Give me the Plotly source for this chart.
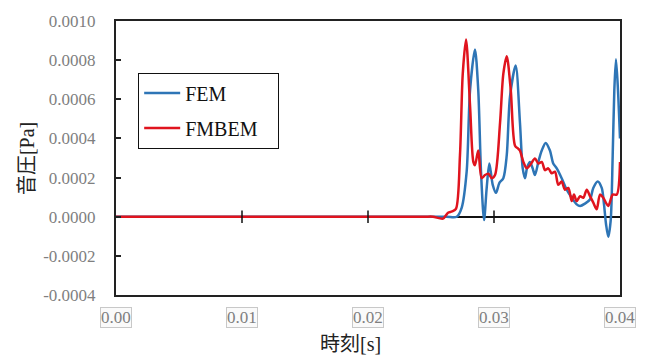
import plotly.graph_objects as go

# ---- data ----
fem_t = [0.0, 0.010, 0.020, 0.0262, 0.02704, 0.02744, 0.02783, 0.02810, 0.02849, 0.02875, 0.02897, 0.02921, 0.02942,
         0.02963, 0.02990, 0.03016, 0.03042, 0.03074, 0.03101, 0.03127, 0.03172, 0.03206, 0.03228,
         0.03246, 0.03264, 0.03286, 0.03307, 0.03325, 0.03352, 0.03379, 0.03410, 0.03444, 0.03470,
         0.03498, 0.03537, 0.03577, 0.03617, 0.03656, 0.03683, 0.03722, 0.03762, 0.03788, 0.03823,
         0.03855, 0.03873, 0.03889, 0.03907, 0.03926, 0.03942, 0.03955, 0.03968, 0.03984, 0.04000]
fem_p = [0.0, 0.0, 0.0, 0.0, 0.0, 0.000047, 0.00023, 0.000647, 0.000855, 0.000647, 0.00023, -0.000017, 0.000147,
         0.000272, 0.000163, 0.000122, 0.000172, 0.000197, 0.000313, 0.000613, 0.000772, 0.00048, 0.000247,
         0.000197, 0.000255, 0.00028, 0.000247, 0.000213, 0.00028, 0.000338, 0.000377, 0.000338, 0.000272,
         0.000247, 0.000197, 0.000138, 0.000097, 0.000063, 0.000055, 0.000067, 0.000088, 0.000147, 0.00018,
         0.000147, 0.000063, -0.000037, -0.000103, -0.00002, 0.000313, 0.000647, 0.000805, 0.000647, 0.0004]

fmbem_t = [0.0, 0.010, 0.020, 0.0245, 0.02516, 0.02595, 0.02635, 0.02667, 0.02698, 0.02730, 0.02752, 0.02778, 0.02810,
           0.02836, 0.02849, 0.02875, 0.02902, 0.02929, 0.02955, 0.02982, 0.03008, 0.03048, 0.03074,
           0.03101, 0.03133, 0.03167, 0.03193, 0.03206, 0.03233, 0.03260, 0.03286, 0.03325, 0.03352,
           0.03379, 0.03405, 0.03431, 0.03458, 0.03484, 0.03510, 0.03537, 0.03563, 0.03590, 0.03617,
           0.03635, 0.03656, 0.03683, 0.03709, 0.03736, 0.03762, 0.03788, 0.03815, 0.03841, 0.03867,
           0.03907, 0.03942, 0.03974, 0.04000]
fmbem_p = [0.0, 0.0, 0.0, 0.0, 0.0, -0.00001, 0.00002, 0.000027, 0.00004, 0.000315, 0.00073, 0.000905, 0.000565,
           0.00028, 0.000263, 0.000338, 0.000197, 0.000213, 0.00022, 0.000197, 0.000213, 0.00048, 0.00073,
           0.00082, 0.000647, 0.000363, 0.000347, 0.000338, 0.00028, 0.000247, 0.000263, 0.000297, 0.000272,
           0.00028, 0.000238, 0.000247, 0.000222, 0.00023, 0.000163, 0.00018, 0.000138, 0.000147, 0.00008,
           0.000113, 0.00008, 0.000105, 0.000097, 0.000138, 0.000105, 0.000072, 0.000038, 0.000113, 0.000097,
           0.000055, 0.000113, 0.000113, 0.00028]

x_ticks = [0.00, 0.01, 0.02, 0.03, 0.04]
x_tick_labels = ["0.00", "0.01", "0.02", "0.03", "0.04"]
y_ticks = [-0.0004, -0.0002, 0.0, 0.0002, 0.0004, 0.0006, 0.0008, 0.0010]
y_tick_labels = ["-0.0004", "-0.0002", "0.0000", "0.0002", "0.0004", "0.0006", "0.0008", "0.0010"]
zero_cross_ticks = [0.01, 0.02, 0.03]

BLUE = "#2E75B6"
RED = "#E0141E"
SERIF = "Liberation Serif, Times New Roman, serif"
TITLE_FONT = "Liberation Serif, Noto Sans CJK JP, serif"

fig = go.Figure()
fig.add_trace(go.Scatter(x=fem_t, y=fem_p, mode="lines", name="FEM", legendgroup="a",
                         line=dict(color=BLUE, width=2.5, shape="spline", smoothing=0.8)))
fig.add_trace(go.Scatter(x=fmbem_t, y=fmbem_p, mode="lines", name="FMBEM\u00a0\u00a0\u00a0", legendgroup="b",
                         line=dict(color=RED, width=2.5, shape="spline", smoothing=0.8)))
# crossing tick marks on the zero line
fig.add_trace(go.Scatter(x=zero_cross_ticks, y=[0] * len(zero_cross_ticks), mode="markers",
                         showlegend=False, hoverinfo="skip",
                         marker=dict(symbol="line-ns-open", size=9, color="#111",
                                     line=dict(color="#111", width=1.5))))

annotations = []
for v, lab in zip(x_ticks, x_tick_labels):
    annotations.append(dict(x=v, xref="x", y=0, yref="paper", yanchor="top", yshift=-12,
                            text=lab, showarrow=False,
                            font=dict(family=SERIF, size=17, color="#7f7f7f"),
                            bordercolor="#c8c8c8", borderwidth=1, borderpad=0, bgcolor="#fafafa"))
annotations.append(dict(x=0.466, xref="paper", y=0, yref="paper", yanchor="middle", yshift=-49,
                        text="時刻[s]", showarrow=False,
                        font=dict(family=TITLE_FONT, size=20, color="#222")))
annotations.append(dict(x=-0.176, xref="paper", y=0.497, yref="paper", xanchor="center", yanchor="middle",
                        text="音圧[Pa]", textangle=-90, showarrow=False,
                        font=dict(family=TITLE_FONT, size=20, color="#222")))

fig.update_layout(
    width=648, height=356,
    margin=dict(l=116, r=28, t=16, b=61),
    paper_bgcolor="white", plot_bgcolor="white",
    showlegend=True,
    legend=dict(x=0.044, y=0.812, xanchor="left", yanchor="top",
                bgcolor="white", bordercolor="#111", borderwidth=1,
                font=dict(family=SERIF, size=20, color="#111"),
                tracegroupgap=6, itemwidth=36),
    annotations=annotations,
    font=dict(family=SERIF),
)
fig.update_xaxes(range=[0, 0.04], showgrid=False, zeroline=False,
                 showline=True, linecolor="#222", linewidth=2, mirror=True,
                 showticklabels=False, ticks="")
fig.update_yaxes(range=[-0.0004, 0.001], tickvals=y_ticks, ticktext=y_tick_labels,
                 showgrid=False, zeroline=True, zerolinecolor="#111", zerolinewidth=1.5,
                 showline=True, linecolor="#222", linewidth=2, mirror=True,
                 ticks="inside", ticklen=5, tickcolor="#222", tickwidth=1.5,
                 ticklabelstandoff=15,
                 tickfont=dict(family=SERIF, size=17, color="#7f7f7f"))

fig.write_html("out.html", config={"displayModeBar": False},
               post_script="document.body.style.margin='0';")
